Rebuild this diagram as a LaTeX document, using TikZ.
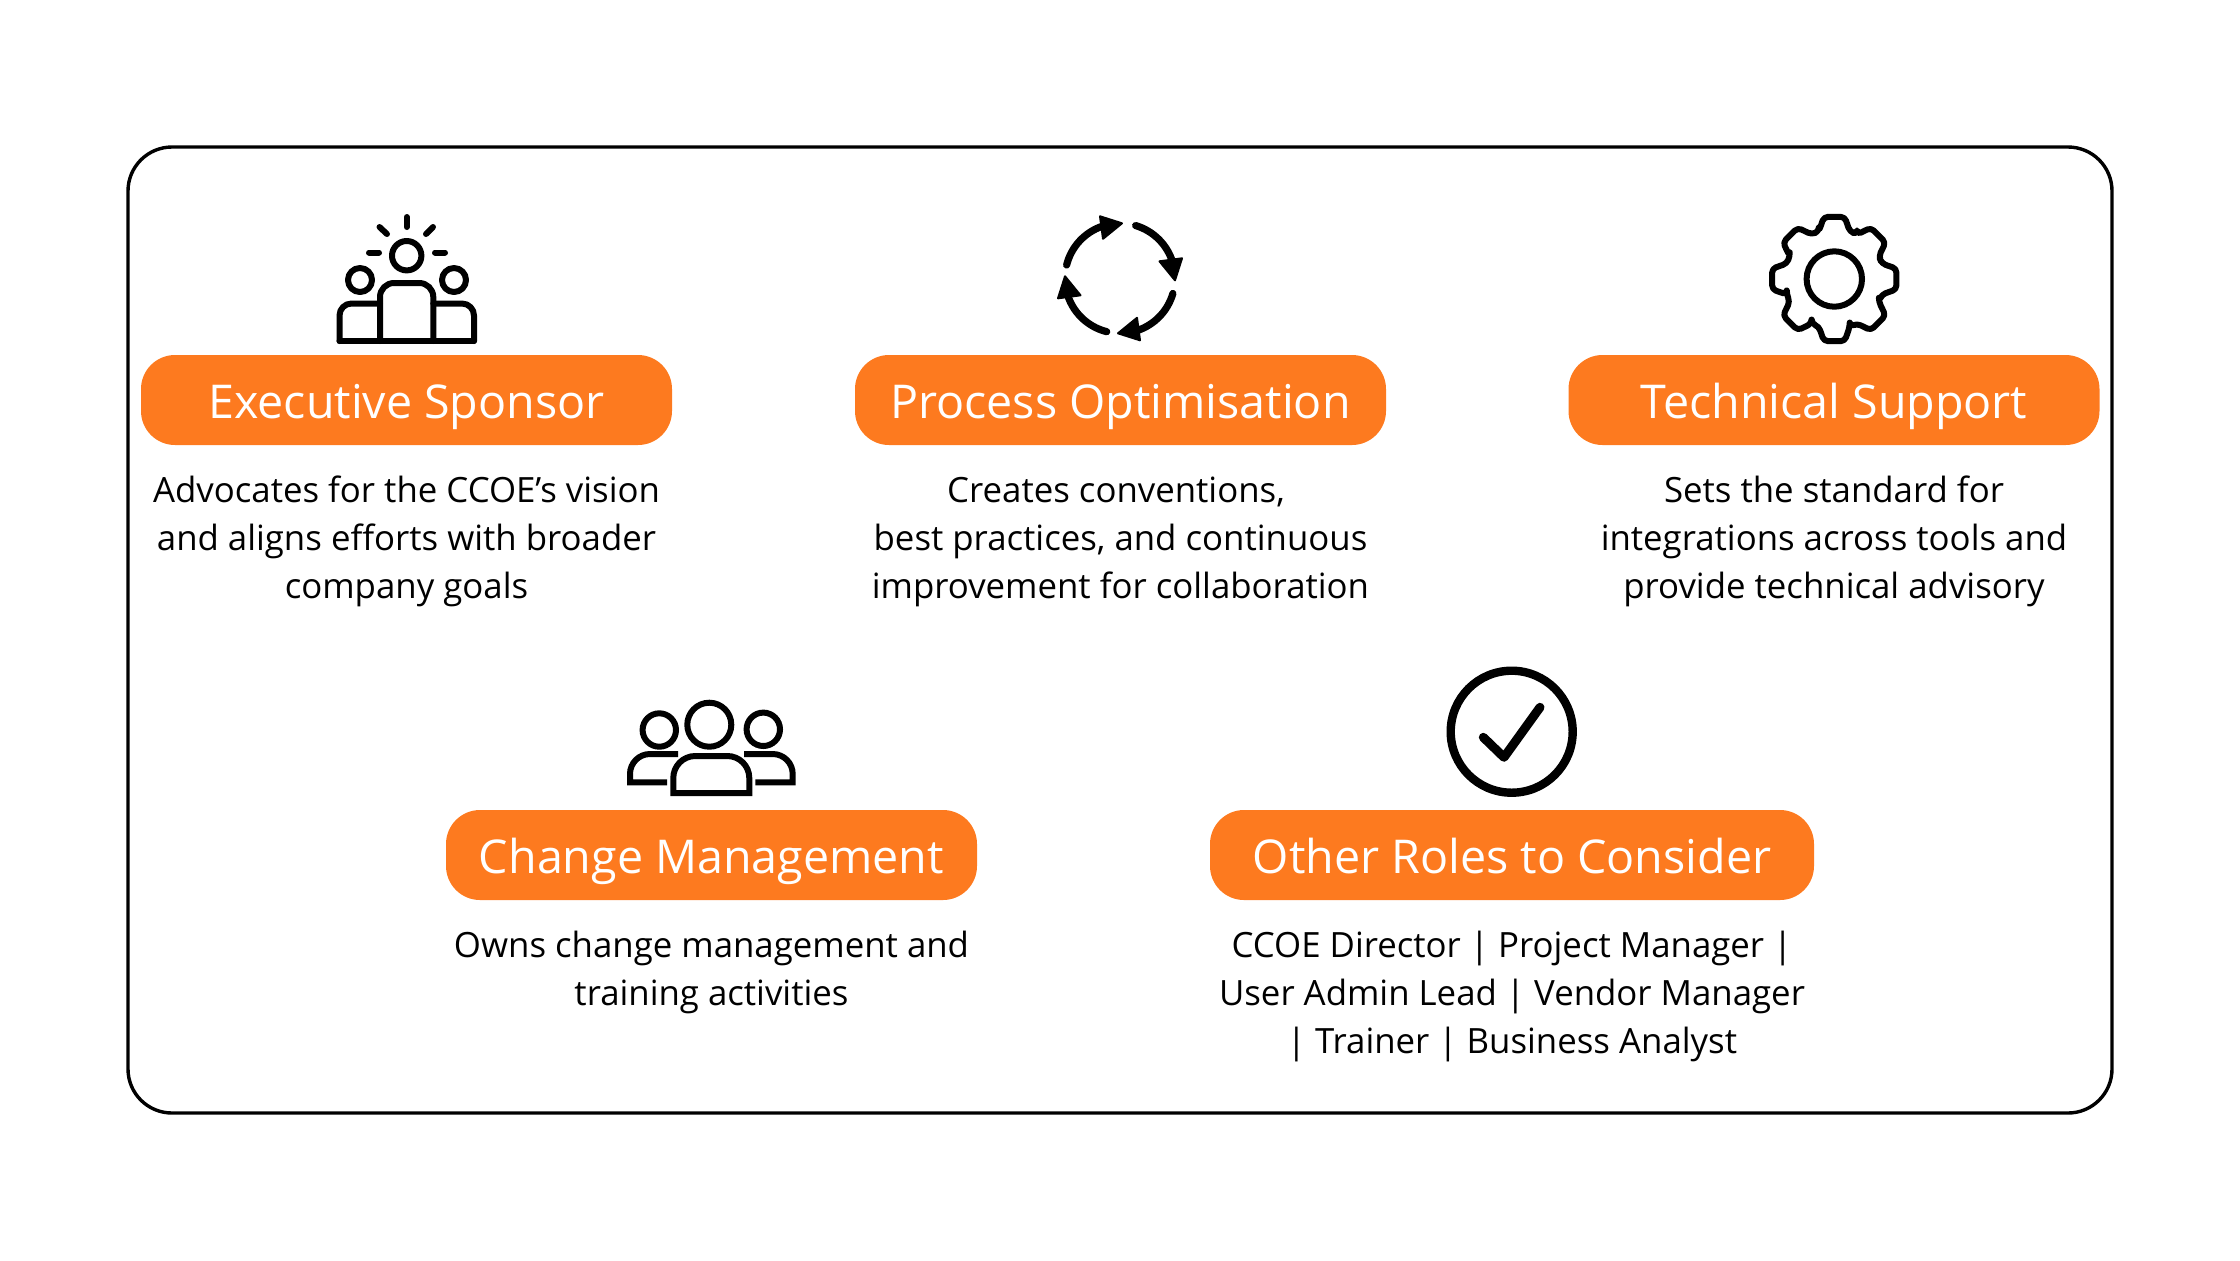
\documentclass[tikz,border=0pt]{standalone}
\usepackage{fontspec}
\setmainfont{Open Sans}
\usetikzlibrary{positioning}
\definecolor{roleorange}{HTML}{FD7A1F}
\tikzset{
    rolepill/.style={fill=roleorange,rounded corners=17pt,minimum width=265.5pt,minimum height=45pt,
        text=white,font=\fontsize{23.3}{28}\selectfont,inner sep=0pt,text height=20pt,text depth=2pt},
    roletext/.style={align=center,font=\fontsize{17.4}{24}\selectfont,inner sep=0pt},
    iconline/.style={draw=black,line width=3pt,line cap=round,line join=round},
}
\begin{document}
\begin{tikzpicture}[x=0.5pt,y=-0.5pt,node distance=11.7pt]
\useasboundingbox (0,0) rectangle (2240,1260);
\draw[line width=1.7pt,rounded corners=22pt] (128,147) rectangle (2112,1113);

\node[rolepill] (sponsor) at (406.5,400) {Executive Sponsor};
\node[rolepill] (process) at (1120.5,400) {Process Optimisation};
\node[rolepill] (technical) at (1834,400) {Technical Support};
\node[rolepill] (change) at (711.5,855) {Change Management};
\node[rolepill,minimum width=302pt] (other) at (1512,855) {Other Roles to Consider};

\node[roletext,below=of sponsor] (sponsortext) {\strut Advocates for the CCOE’s vision\\and aligns efforts with broader\\company goals};
\node[roletext,below=of process] (processtext) {\strut Creates conventions,\kern4.5pt\\best practices, and continuous\\improvement for collaboration};
\node[roletext,below=of technical] (technicaltext) {\strut Sets the standard for\\integrations across tools and\\provide technical advisory};
\node[roletext,below=of change] (changetext) {\strut Owns change management and\\training activities};
\node[roletext,below=of other] (othertext) {\strut CCOE Director | Project Manager |\\User Admin Lead | Vendor Manager\\ | Trainer | Business Analyst};

% sponsor icon
\begin{scope}[iconline]
    \draw (406.7,255.7) circle (14.7);
    \draw (360,280) circle (12);
    \draw (454,280) circle (12);
    \draw (406.7,217) -- (406.7,227);
    \draw (379.5,227) -- (387,234);
    \draw (433,227) -- (426,234);
    \draw (369,252.5) -- (379,252.5);
    \draw (435,252.5) -- (445,252.5);
    \draw (339.5,341) -- (474,341);
    \draw[rounded corners=7pt] (380,341) -- (380,283) -- (433.3,283) -- (433.3,341);
    \draw[rounded corners=6pt] (339.5,341) -- (339.5,303.5) -- (380,303.5);
    \draw[rounded corners=6pt] (474,341) -- (474,303.5) -- (433.3,303.5);
\end{scope}

% process icon
\begin{scope}[shift={(1120,278.3)}]
    \foreach \a/\b in {-166/-108,-73.5/-16,16/72,104/166}
        \draw[iconline,line width=3.6pt] (\a:55) arc (\a:\b:55);
    \foreach \a in {0,90,180,270}
        \filldraw[rotate=\a,line width=1pt,line join=round] (-20,-62) -- (-17,-39.5) -- (2,-55) -- cycle;
\end{scope}

% technical icon
\begin{scope}[shift={(1834.3,279)},iconline]
    \draw (0,0) circle (27.7);
    \draw[rounded corners=2pt] (-27:50)
        \foreach \a in {0,45,...,315} { -- (\a-18:50) -- (\a-9.5:63) -- (\a+9.5:63) -- (\a+18:50) -- (\a+27:50) } -- cycle;
\end{scope}

% change icon
\begin{scope}[iconline,line cap=butt,line join=miter]
    \draw (709.3,724.7) circle (22);
    \draw (659.3,730) circle (16.7);
    \draw (763.3,729.3) circle (16.7);
    \draw (673.3,793) [rounded corners=11pt] -- (673.3,756) -- (749.3,756) [sharp corners] -- (749.3,793) -- cycle;
    \draw (678,754) [rounded corners=10pt] -- (630,754) [sharp corners] -- (630,782.3) -- (667,782.3);
    \draw (744,754) [rounded corners=10pt] -- (792.7,754) [sharp corners] -- (792.7,782.3) -- (755.3,782.3);
\end{scope}

% other icon
\draw[iconline,line width=4.2pt] (1511.7,731.7) circle (61);
\draw[iconline,line width=4.5pt] (1483.3,737.3) -- (1504,757.3) -- (1540,707.3);
\end{tikzpicture}
\end{document}
